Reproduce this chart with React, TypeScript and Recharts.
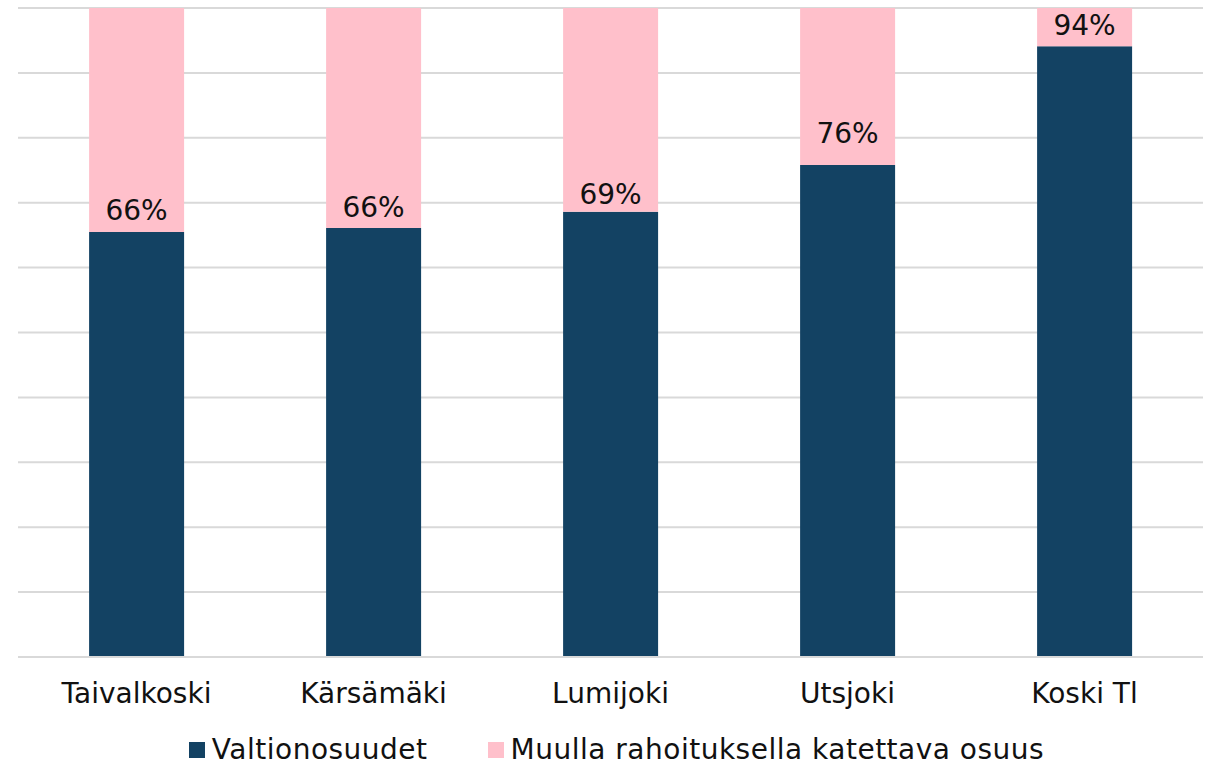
import React from "react";
import { BarChart, Bar, XAxis, YAxis, CartesianGrid, Legend, LabelList } from "recharts";

document.body.style.margin = "0";

const categories = ["Taivalkoski", "Kärsämäki", "Lumijoki", "Utsjoki", "Koski Tl"];
const valtionosuudet = [65.5, 66.1, 68.6, 75.8, 94.1];
const yTicks = [0, 10, 20, 30, 40, 50, 60, 70, 80, 90, 100];
const seriesNames = ["Valtionosuudet", "Muulla rahoituksella katettava osuus"];
// labels in the original were nudged by hand a little, px above the bar top
const labelLift = [12, 11, 8, 22, 11];

const data = categories.map((name, i) => ({
    name,
    valtio: valtionosuudet[i],
    muu: 100 - valtionosuudet[i],
}));

const FONT = "'DejaVu Sans', sans-serif";
const FS = 28;
const DARK = "#134263";
const PINK = "#FFC0CB";

const renderLegend = (props: any) => {
    // keep series order as in the original chart
    const items = [...(props.payload || [])].sort(
        (a: any, b: any) => seriesNames.indexOf(a.value) - seriesNames.indexOf(b.value)
    );
    return (
        <div style={{ display: "flex", justifyContent: "center", fontFamily: FONT, fontSize: FS, color: "#111", lineHeight: "34px", paddingLeft: 12, position: "relative", top: 3, letterSpacing: 0.5 }}>
            {items.map((entry: any, index: number) => (
                <div key={`item-${index}`} style={{ display: "flex", alignItems: "center", marginRight: index === 0 ? 60 : 0 }}>
                    <span style={{ display: "inline-block", width: 16, height: 16, background: entry.color, marginRight: 7 }} />
                    <span>{entry.value}</span>
                </div>
            ))}
        </div>
    );
};

const renderValueLabel = (props: any) => {
    const { x, y, width, value, index } = props;
    return (
        <text
            x={Number(x) + Number(width) / 2}
            y={Number(y) - labelLift[index]}
            textAnchor="middle"
            fill="#111"
            fontSize={FS}
            fontFamily={FONT}
        >
            {`${Math.round(Number(value))}%`}
        </text>
    );
};

const App: React.FC = () => {
    return (
        <div style={{ width: 1207, height: 764, background: "#fff" }}>
            <BarChart width={1207} height={764} data={data} margin={{ top: 8, right: 4, left: 18, bottom: 0 }} barCategoryGap="30%">
                <CartesianGrid vertical={false} stroke="#d9d9d9" strokeWidth={2} />
                <XAxis
                    dataKey="name"
                    axisLine={{ stroke: "#d9d9d9", strokeWidth: 2 }}
                    tickLine={false}
                    tickMargin={20}
                    height={73}
                    tick={{ fill: "#111", fontSize: FS, fontFamily: FONT }}
                />
                <YAxis hide domain={[0, 100]} ticks={yTicks} />
                <Legend verticalAlign="bottom" content={renderLegend} />
                <Bar dataKey="valtio" name={seriesNames[0]} stackId="a" fill={DARK} isAnimationActive={false}>
                    <LabelList dataKey="valtio" content={renderValueLabel} />
                </Bar>
                <Bar dataKey="muu" name={seriesNames[1]} stackId="a" fill={PINK} isAnimationActive={false} />
            </BarChart>
        </div>
    );
};

export default App;
